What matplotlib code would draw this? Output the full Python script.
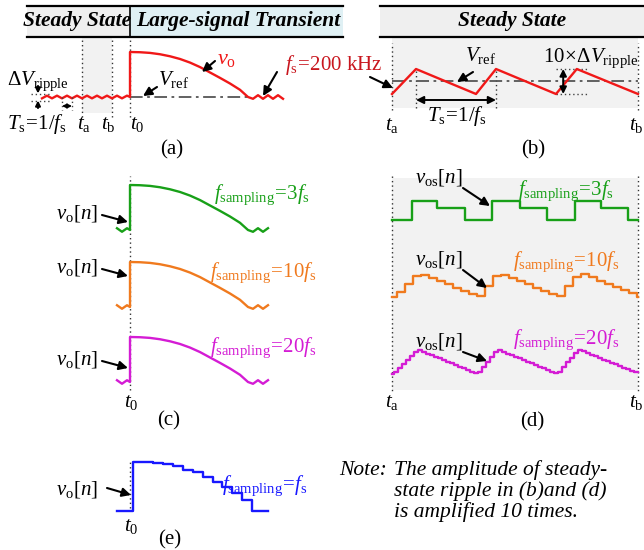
import numpy as np
import matplotlib
matplotlib.use('Agg')
import matplotlib.pyplot as plt
from matplotlib.patches import Rectangle

plt.rcParams['font.family'] = ['Liberation Serif', 'DejaVu Serif']
plt.rcParams['mathtext.fontset'] = 'custom'
plt.rcParams['mathtext.rm'] = 'Liberation Serif'
plt.rcParams['mathtext.it'] = 'Liberation Serif:italic'
plt.rcParams['mathtext.bf'] = 'Liberation Serif:bold'

W, H = 644, 550

# ---------------- data (time in units of Ts, voltages normalised) ----------------
# large-signal transient of v_o after t0 (0 = Vref, 1 = peak)
curve_t = [0, 1, 2, 3, 4, 5, 6, 7, 8, 9, 10, 11, 11.8]
curve_v = [1.0, 0.995, 0.98, 0.95, 0.905, 0.845, 0.765, 0.665, 0.545, 0.425, 0.30, 0.16, 0.0]
# steady-state ripple before t0 and after the transient
rip_pre_t = [-8.8, -8.3, -7.8, -7.3, -6.8, -6.3, -5.8, -5.3, -4.8, -4.3, -3.8, -3.3,
             -2.8, -2.3, -1.8, -1.3, -0.8, -0.3, 0.0]
rip_pre_v = [-0.03, 0.03, -0.03, 0.03, -0.03, 0.03, -0.03, 0.03, -0.03, 0.03, -0.03, 0.03,
             -0.03, 0.03, -0.03, 0.03, -0.03, 0.03, 0.0]
rip_post_t = [11.8, 12.3, 12.8, 13.3, 13.8, 14.3, 14.8, 15.3]
rip_post_v = [0.0, -0.04, 0.04, -0.04, 0.04, -0.04, 0.04, -0.04]
t_a_a, t_b_a = -4.8, -1.8          # t_a, t_b in panel (a)

# panel (b): amplified steady-state ripple between t_a and t_b
tri_t = [0, 0.3, 1.05, 1.3, 2.05, 2.31, 3.075]
tri_v = [-1, 1, -1, 1, -1, 1, -1]
t_end_b = 3.075

# panel (d): sampled steady-state ripple (zero-order hold)
g_t = [0, 0.25, 0.5625, 0.9125, 1.25, 1.6, 1.9375, 2.2875, 2.6125, 2.95]
g_v = [-1, 0.55, 0.0, -1, 0.55, 0.0, -1, 0.55, 0.0, -1]
o_t = [0, 0.0625, 0.1625, 0.2625, 0.3625, 0.4625, 0.5625, 0.6625, 0.7625, 0.8625, 0.9625,
       1.0625, 1.1625, 1.2625, 1.3625, 1.4625, 1.5625, 1.6625, 1.7625, 1.8625, 1.9625,
       2.0625, 2.1625, 2.2625, 2.3625, 2.4625, 2.5625, 2.6625, 2.7625, 2.8625, 2.9625, 3.0625]
o_v = [-1.0, -0.58, 0.08, 0.75, 0.83, 0.57, 0.30, 0.03, -0.23, -0.50, -0.77,
       -0.90, -0.10, 0.70, 0.83, 0.57, 0.30, 0.03, -0.23, -0.50, -0.77,
       -0.90, -0.14, 0.62, 0.87, 0.61, 0.34, 0.08, -0.18, -0.44, -0.70, -0.97]
m_t = [0, 0.025, 0.075, 0.125, 0.175, 0.225, 0.275, 0.325, 0.375, 0.425, 0.475, 0.525,
       0.575, 0.625, 0.675, 0.725, 0.775, 0.825, 0.875, 0.925, 0.975, 1.025, 1.075,
       1.125, 1.175, 1.225, 1.275, 1.325, 1.375, 1.425, 1.475, 1.525, 1.575, 1.625,
       1.675, 1.725, 1.775, 1.825, 1.875, 1.925, 1.975, 2.025, 2.075, 2.125, 2.175,
       2.225, 2.275, 2.325, 2.375, 2.425, 2.475, 2.525, 2.575, 2.625, 2.675, 2.725,
       2.775, 2.825, 2.875, 2.925, 2.975, 3.025]
m_v = [-1.0, -0.83, -0.5, -0.17, 0.17, 0.5, 0.83, 0.93, 0.8, 0.67, 0.53, 0.4, 0.27, 0.13,
       0.0, -0.13, -0.27, -0.4, -0.53, -0.67, -0.8, -0.93, -0.8, -0.4, 0.0, 0.4, 0.8,
       0.93, 0.8, 0.67, 0.53, 0.4, 0.27, 0.13, 0.0, -0.13, -0.27, -0.4, -0.53, -0.67,
       -0.8, -0.93, -0.81, -0.43, -0.05, 0.33, 0.71, 0.97, 0.84, 0.70, 0.57, 0.44, 0.31,
       0.18, 0.05, -0.08, -0.21, -0.34, -0.48, -0.61, -0.74, -0.87]

# panel (e): transient sampled at f_s
e_t = [-1.3, 0.3, 2.3, 3.3, 4.3, 5.3, 6.3, 7.3, 8.3, 9.2, 10.2, 11.2, 12.2]
e_v = [0.0, 1.0, 0.98, 0.95, 0.91, 0.84, 0.78, 0.69, 0.59, 0.49, 0.35, 0.21, 0.0]
t_end_ce = 13.8

RED, DRED = '#f01818', '#c8161e'
GREEN, ORANGE, MAGENTA, BLUE = '#18a018', '#f07a1e', '#d41cd4', '#1818ff'
SHADE = '#f2f2f2'

fig = plt.figure(figsize=(W / 100, H / 100), dpi=100)


def panel(x0, x1, y0, y1, t_px0, px_t, v_px0, px_v):
    ax = fig.add_axes([x0 / W, 1 - y1 / H, (x1 - x0) / W, (y1 - y0) / H])
    ax.set_xlim((x0 - t_px0) / px_t, (x1 - t_px0) / px_t)
    ax.set_ylim((v_px0 - y1) / px_v, (v_px0 - y0) / px_v)
    ax.axis('off')
    return ax


def vdots(ax, t, v0, v1):
    ax.plot([t, t], [v0, v1], ls=(0, (1, 2.2)), color='#333333', lw=1.0, clip_on=False, zorder=1)


lw_w = 1.7
DASHDOT = (0, (7, 2.5, 1.5, 2.5))

# ---------------- panel (a) ----------------
axa = panel(27, 343, 37, 117, 130, 10, 97, 45)
axa.axvspan(t_a_a, t_b_a, ymin=0.05, ymax=1, color=SHADE, lw=0, zorder=0)
for tt in (t_a_a, t_b_a, 0):
    vdots(axa, tt, -0.44, 1.33)
axa.plot([0, curve_t[-1]], [0, 0], color='#555555', lw=1.3, ls=DASHDOT, zorder=2)
ta_all = rip_pre_t + curve_t + rip_post_t
va_all = rip_pre_v + curve_v + rip_post_v
axa.plot(ta_all, va_all, color=RED, lw=lw_w, clip_on=False, zorder=3)

# ---------------- panel (b) ----------------
axb = panel(392, 638, 37, 108, 392, 80, 81.5, 12.5)
axb.axvspan(0, t_end_b, color=SHADE, lw=0, zorder=0)
for tt in (0, t_end_b):
    vdots(axb, tt, -2.3, 3.1)
for tt in (tri_t[1], tri_t[3]):
    vdots(axb, tt, -2.1, 1)
axb.plot([0, t_end_b], [0, 0], color='#555555', lw=1.3, ls=DASHDOT, zorder=2)
axb.plot(tri_t, tri_v, color=RED, lw=lw_w, clip_on=False, zorder=3)
axb.annotate('', xy=(tri_t[1], -1.48), xytext=(tri_t[3], -1.48),
             arrowprops=dict(arrowstyle='<|-|>', color='k', lw=1.4, mutation_scale=11,
                             shrinkA=0, shrinkB=0))
for vv in (1, -1):
    axb.plot([2.05, 2.45], [vv, vv], ls=(0, (1, 2)), color='#444444', lw=1.0)
axb.annotate('', xy=(2.14, 1), xytext=(2.14, -1),
             arrowprops=dict(arrowstyle='<|-|>', color='k', lw=1.4, mutation_scale=10,
                             shrinkA=0, shrinkB=0))

# ---------------- panel (c) ----------------
t_c = rip_pre_t[-4:] + curve_t + rip_post_t[:5]
v_c = [v * 1.3 for v in rip_pre_v[-4:]] + curve_v + rip_post_v[:5]
for col, vpx0 in ((GREEN, 230), (ORANGE, 307), (MAGENTA, 382)):
    ax = panel(110, 280, vpx0 - 52, vpx0 + 10, 130, 10, vpx0, 45)
    ax.plot(t_c, v_c, color=col, lw=lw_w, clip_on=False, zorder=3)
    if vpx0 == 230:
        vdots(ax, 0, (230 - 390) / 45, (230 - 176) / 45)

# ---------------- panel (d) ----------------
axd = panel(392, 638, 178, 390, 392, 80, 0, 1)
axd.axvspan(0, t_end_b, color=SHADE, lw=0, zorder=0)
for tt in (0, t_end_b):
    axd.plot([tt, tt], [-176, -392], ls=(0, (1, 2.2)), color='#333333', lw=1.0, clip_on=False)
for col, vpx0, tt, vv in ((GREEN, 207.75, g_t, g_v), (ORANGE, 284.75, o_t, o_v),
                          (MAGENTA, 361.75, m_t, m_v)):
    ax = panel(392, 638, 178, 390, 392, 80, vpx0, 12.25)
    ax.step(tt + [t_end_b], vv + [vv[-1]], where='post', color=col, lw=lw_w,
            clip_on=False, zorder=3)

# ---------------- panel (e) ----------------
axe = panel(110, 280, 455, 515, 130, 10, 510.5, 48.8)
vdots(axe, 0, (510.5 - 508) / 48.8, (510.5 - 461) / 48.8)
axe.step(e_t + [t_end_ce], e_v + [e_v[-1]], where='post', color=BLUE, lw=lw_w,
         clip_on=False, zorder=3)

# ---------------- overlay: headers, labels, arrows ----------------
ov = fig.add_axes([0, 0, 1, 1], zorder=10)
ov.set_xlim(0, W)
ov.set_ylim(H, 0)
ov.axis('off')

ov.add_patch(Rectangle((27, 6), 103, 31, color='#efefef', lw=0))
ov.add_patch(Rectangle((130, 6), 213, 31, color='#dff0f4', lw=0))
ov.add_patch(Rectangle((380, 6), 264, 31, color='#efefef', lw=0))
for x0, x1 in ((27, 343), (380, 644)):
    for yy in (6, 37):
        ov.plot([x0, x1], [yy, yy], color='k', lw=1.6)
ov.plot([130, 130], [6, 37], color='k', lw=1.2)
hdr = dict(fontsize=15.5, fontweight='bold', fontstyle='italic', ha='center', va='center')
ov.text(77, 21, 'Steady State', **hdr)
ov.text(238, 21, 'Large-signal Transient', **hdr)
ov.text(512, 21, 'Steady State', **hdr)

FS = 15


def arrow(start, tip, ms=13):
    ov.annotate('', xy=tip, xytext=start,
                arrowprops=dict(arrowstyle='-|>', color='k', lw=1.5, mutation_scale=ms,
                                shrinkA=0, shrinkB=0))


# (a)
ov.text(7, 85, r'$\Delta V_{\rm ripple}$', fontsize=FS, ha='left', va='baseline')
ov.text(7, 129, r'$T_{\rm s}\!=\!1/f_{\rm s}$', fontsize=FS, ha='left', va='baseline')
ov.text(84, 129, r'$t_{\rm a}$', fontsize=FS, ha='center', va='baseline')
ov.text(108, 129, r'$t_{\rm b}$', fontsize=FS, ha='center', va='baseline')
ov.text(137, 129, r'$t_0$', fontsize=FS, ha='center', va='baseline')
ov.text(172, 150, '(a)', fontsize=FS, ha='center', va='center')
ov.text(217, 64, r'$v_{\rm o}$', fontsize=FS + 1, color=RED, ha='left', va='baseline')
arrow((215, 61), (202, 72))
ov.text(158, 85, r'$V_{\rm ref}$', fontsize=FS, ha='left', va='baseline')
arrow((157, 87), (143, 96))
ov.text(285, 70, r'$f_{\rm s}\!=\!200\ {\rm kHz}$', fontsize=FS, color=DRED, ha='left', va='baseline')
arrow((277, 72), (263, 96))
arrow((370, 77), (393, 88))
for yy in (93.5, 100.5):
    ov.plot([31, 50], [yy, yy], ls=(0, (1, 2)), color='#444444', lw=1.0)
arrow((38, 86), (38, 93.5), ms=7)
arrow((38, 108), (38, 100.5), ms=7)
for xx in (62, 72):
    ov.plot([xx, xx], [97, 110], ls=(0, (1, 2)), color='#444444', lw=1.0)
ov.annotate('', xy=(62, 106), xytext=(72, 106),
            arrowprops=dict(arrowstyle='<|-|>', color='k', lw=1.2, mutation_scale=6,
                            shrinkA=0, shrinkB=0))

# (b)
ov.text(465, 61, r'$V_{\rm ref}$', fontsize=FS, ha='left', va='baseline')
arrow((473, 72), (457, 82))
ov.text(543, 62, r'$10\!\times\!\Delta V_{\rm ripple}$', fontsize=FS, ha='left', va='baseline')
ov.text(427, 121, r'$T_{\rm s}\!=\!1/f_{\rm s}$', fontsize=FS, ha='left', va='baseline')
ov.text(392, 130, r'$t_{\rm a}$', fontsize=FS, ha='center', va='baseline')
ov.text(629, 130, r'$t_{\rm b}$', fontsize=FS, ha='left', va='baseline')
ov.text(533, 150, '(b)', fontsize=FS, ha='center', va='center')

# (c)
for yc, col, lab in ((214, GREEN, '3'), (268, ORANGE, '10'), (360, MAGENTA, '20')):
    ov.text(98, yc, r'$v_{\rm o}[n]$', fontsize=FS, ha='right', va='center')
    arrow((102, yc + 1), (128, yc + 8))
ov.text(214, 195, r'$f_{\rm sampling}\!=\!3f_{\rm s}$', fontsize=FS, color=GREEN, ha='left', va='center')
ov.text(210, 273, r'$f_{\rm sampling}\!=\!10f_{\rm s}$', fontsize=FS, color=ORANGE, ha='left', va='center')
ov.text(210, 348, r'$f_{\rm sampling}\!=\!20f_{\rm s}$', fontsize=FS, color=MAGENTA, ha='left', va='center')
ov.text(131, 407, r'$t_0$', fontsize=FS, ha='center', va='baseline')
ov.text(169, 421, '(c)', fontsize=FS, ha='center', va='center')

# (d)
for yc, tip in ((178, (490, 206)), (260, (487, 288)), (342, (487, 361))):
    ov.text(415, yc, r'$v_{\rm os}[n]$', fontsize=FS, ha='left', va='center')
    arrow((463, yc + 10), tip)
ov.text(518, 191, r'$f_{\rm sampling}\!=\!3f_{\rm s}$', fontsize=FS, color=GREEN, ha='left', va='center')
ov.text(513, 262, r'$f_{\rm sampling}\!=\!10f_{\rm s}$', fontsize=FS, color=ORANGE, ha='left', va='center')
ov.text(513, 340, r'$f_{\rm sampling}\!=\!20f_{\rm s}$', fontsize=FS, color=MAGENTA, ha='left', va='center')
ov.text(392, 407, r'$t_{\rm a}$', fontsize=FS, ha='center', va='baseline')
ov.text(629, 407, r'$t_{\rm b}$', fontsize=FS, ha='left', va='baseline')
ov.text(532, 422, '(d)', fontsize=FS, ha='center', va='center')

# (e)
ov.text(98, 490, r'$v_{\rm o}[n]$', fontsize=FS, ha='right', va='center')
arrow((107, 488), (131, 495))
ov.text(222, 486, r'$f_{\rm sampling}\!=\!f_{\rm s}$', fontsize=FS, color=BLUE, ha='left', va='center')
ov.text(131, 531, r'$t_0$', fontsize=FS, ha='center', va='baseline')
ov.text(170, 540, '(e)', fontsize=FS, ha='center', va='center')

# note
nt = dict(fontsize=15.5, fontstyle='italic', ha='left', va='baseline')
ov.text(339, 475, 'Note:', **nt)
ov.text(394, 475, 'The amplitude of steady-', **nt)
ov.text(394, 496, 'state ripple in (b)and (d)', **nt)
ov.text(394, 517, 'is amplified 10 times.', **nt)

fig.savefig('out.png', dpi=100)
